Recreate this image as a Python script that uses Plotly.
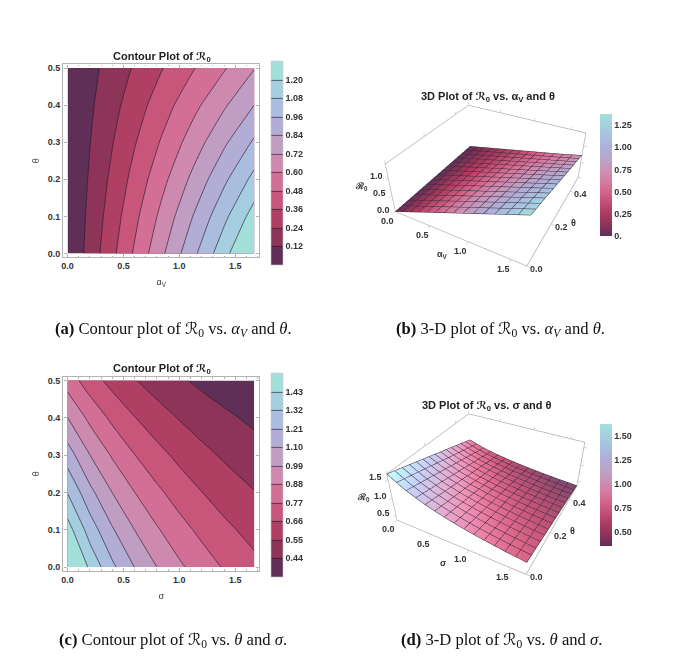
import plotly.graph_objects as go

W, H = 678, 660

# ---- data ----
alpha_v = [0, 0.28, 0.56, 0.84, 1.12, 1.4, 1.67]
theta = [0, 0.1, 0.2, 0.3, 0.4, 0.5]
r0_alpha = [
    [0, 0.232, 0.464, 0.696, 0.927, 1.159, 1.383],
    [0, 0.210, 0.420, 0.630, 0.840, 1.050, 1.253],
    [0, 0.187, 0.374, 0.561, 0.748, 0.935, 1.116],
    [0, 0.164, 0.328, 0.491, 0.655, 0.819, 0.977],
    [0, 0.141, 0.282, 0.423, 0.563, 0.704, 0.840],
    [0, 0.118, 0.235, 0.353, 0.470, 0.588, 0.715],
]
sigma = [0, 0.2, 0.4, 0.6, 0.8, 1.0, 1.2, 1.4, 1.67]
r0_sigma = [
    [1.640, 1.408, 1.233, 1.098, 0.989, 0.899, 0.825, 0.761, 0.690],
    [1.478, 1.269, 1.111, 0.989, 0.891, 0.810, 0.743, 0.686, 0.622],
    [1.316, 1.130, 0.989, 0.881, 0.793, 0.721, 0.662, 0.611, 0.554],
    [1.154, 0.991, 0.868, 0.772, 0.696, 0.633, 0.580, 0.536, 0.486],
    [0.992, 0.852, 0.746, 0.664, 0.598, 0.544, 0.499, 0.461, 0.418],
    [0.830, 0.712, 0.624, 0.556, 0.500, 0.455, 0.417, 0.385, 0.349],
]
ticks_2d = [0, 0.5, 1.0, 1.5]
ticks_theta = [0, 0.1, 0.2, 0.3, 0.4, 0.5]
ticks_theta_3d = [0, 0.2, 0.4]
cbar_a_ticks = [0.12, 0.24, 0.36, 0.48, 0.60, 0.72, 0.84, 0.96, 1.08, 1.20]
cbar_c_ticks = [0.44, 0.55, 0.66, 0.77, 0.88, 0.99, 1.10, 1.21, 1.32, 1.43]

# ---- styling ----
berry = [
    [0.00, "#5f2f57"], [0.09, "#8c3358"], [0.18, "#aa3b60"], [0.27, "#c34e72"],
    [0.36, "#d3648a"], [0.45, "#d47da3"], [0.54, "#ca92b7"], [0.63, "#bba4c9"],
    [0.72, "#aeafd8"], [0.81, "#a8bfe0"], [0.90, "#a5cfe0"], [1.00, "#a3e0dc"],
]
FONT = "Liberation Sans"
SERIF = "Liberation Serif"
TICKC = "#333333"
FRAME = "#b4b4b4"
BOLD = dict(family=FONT, size=9, color=TICKC, weight="bold")


def px(x):
    return x / W


def py(y):
    return 1 - y / H


fig = go.Figure()


def contour_panel(key, x, z, start, size, nlev, y_top, y_bot, cb_top, cb_bot, cb_ticks, xname):
    fig.add_trace(go.Contour(
        x=x, y=theta, z=z, xaxis=f"x{key}", yaxis=f"y{key}",
        colorscale=berry, zmin=start - size, zmax=start + size * nlev,
        contours=dict(start=start, end=start + size * (nlev - 1), size=size, coloring="fill"),
        line=dict(color="rgba(40,25,45,0.8)", width=0.8, smoothing=0.4),
        colorbar=dict(
            x=px(270), xanchor="left", xpad=0, y=py(cb_top), yanchor="top", ypad=0,
            len=cb_bot - cb_top, lenmode="pixels", thickness=12, thicknessmode="pixels",
            tickvals=cb_ticks, tickformat=".2f", ticks="", outlinecolor="#c8c8c8", outlinewidth=0.6,
            tickfont=BOLD,
        ),
    ))
    common = dict(showline=True, mirror="allticks", linecolor=FRAME, linewidth=1.4, ticks="inside",
                  ticklen=3, tickcolor=FRAME, showgrid=False, zeroline=False,
                  tickfont=BOLD, tickformat=".1f",
                  minor=dict(ticks="inside", ticklen=1.5, tickcolor=FRAME, dtick=0.1, showgrid=False))
    fig.update_layout({
        f"xaxis{key}": dict(common, domain=[px(61.5), px(258)], range=[-0.038, 1.715], tickvals=ticks_2d,
                            anchor=f"y{key}", title=dict(text=xname, standoff=8, font=dict(family=FONT, size=9, color=TICKC))),
        f"yaxis{key}": dict(common, domain=[py(y_bot), py(y_top)], range=[-0.01, 0.51], tickvals=ticks_theta,
                            anchor=f"x{key}", title=dict(text="θ", standoff=6, font=dict(family=FONT, size=9, color=TICKC))),
    })


contour_panel("", alpha_v, r0_alpha, 0.12, 0.12, 10, 63.5, 257, 60, 264, cbar_a_ticks, "α<sub>V</sub>")
contour_panel("2", sigma, r0_sigma, 0.44, 0.11, 10, 377, 571.5, 373, 577, cbar_c_ticks, "σ")


def label3d(x, y, z, text, dx, dy):
    return dict(x=x, y=y, z=z, text=text, showarrow=False, xanchor="center", yanchor="middle",
                xshift=dx, yshift=-dy, font=BOLD)


def surface_panel(name, x, z, zrange, zticks, z_title, cb_top, cb_bot, cb_ticks, cb_text, xname, y_dom, eye_z, lighting, cmin, cmax):
    fig.add_trace(go.Surface(
        x=x, y=theta, z=z, scene=name, colorscale=berry, cmin=cmin, cmax=cmax,
        lighting=lighting,
        contours=dict(
            x=dict(show=True, start=0, end=1.67, size=0.119, color="#3a2a38", width=1),
            y=dict(show=True, start=0, end=0.5, size=0.0357, color="#3a2a38", width=1),
        ),
        colorbar=dict(
            x=px(600), xanchor="left", xpad=0, y=py(cb_top), yanchor="top", ypad=0,
            len=cb_bot - cb_top, lenmode="pixels", thickness=12, thicknessmode="pixels",
            tickvals=cb_ticks, ticktext=cb_text, ticks="", outlinewidth=0,
            tickfont=BOLD,
        ),
    ))
    ax = dict(showbackground=False, showgrid=False, zeroline=False, showspikes=False, title=dict(text=""),
              showline=True, mirror="all", linecolor="#b0b0b0", linewidth=1.5, ticks="outside",
              ticklen=3, tickcolor="#b0b0b0", showticklabels=False)
    labels = []
    for v in ticks_2d:
        labels.append(label3d(v, 0, zrange[0], f"{v:.1f}", -8, 9))
    for v in ticks_theta_3d:
        labels.append(label3d(1.67, v, zrange[0], f"{v:.1f}", 10, 3))
    for v in zticks:
        labels.append(label3d(0, 0, v, f"{v:.1f}", -12, -2))
    labels.append(label3d(0.8, 0, zrange[0], xname, -10, 19))
    labels.append(label3d(1.67, 0.3, zrange[0], "θ", 12, 16))
    labels.append(label3d(0, 0, z_title, "ℛ<sub>0</sub>", -28, 3))
    fig.update_layout({name: dict(
        domain=dict(x=[px(357), px(627)], y=[py(y_dom[1]), py(y_dom[0])]),
        xaxis=dict(ax, range=[0, 1.67], tickvals=ticks_2d),
        yaxis=dict(ax, range=[0, 0.5], tickvals=ticks_theta_3d),
        zaxis=dict(ax, range=zrange, tickvals=zticks),
        aspectmode="manual", aspectratio=dict(x=1.2, y=1.2, z=0.48),
        camera=dict(eye=dict(x=1.16, y=-2.14, z=eye_z), projection=dict(type="perspective")),
        annotations=labels,
    )})


flat = dict(ambient=1.0, diffuse=0.0, specular=0.0, roughness=1.0, fresnel=0.0)
bright = dict(ambient=1.0, diffuse=0.7, specular=0.3, roughness=1.0, fresnel=0.0)
surface_panel("scene", alpha_v, r0_alpha, [0, 1.38], [0, 0.5, 1.0], 0.85, 113, 235, [0, 0.25, 0.5, 0.75, 1.0, 1.25],
              ["0.", "0.25", "0.50", "0.75", "1.00", "1.25"], "α<sub>V</sub>", (26, 316), 1.72, flat, 0, 1.38)
surface_panel("scene2", sigma, r0_sigma, [0.349, 1.64], [0.5, 1.0, 1.5], 1.1, 424, 546, [0.5, 0.75, 1.0, 1.25, 1.5],
              ["0.50", "0.75", "1.00", "1.25", "1.50"], "σ", (336, 626), 1.79, bright, 0.35, 1.63)

anns = []


def text(x, y, s, font, size, color="#111111"):
    anns.append(dict(x=px(x), y=py(y), xref="paper", yref="paper", text=s, showarrow=False,
                     xanchor="center", yanchor="middle", font=dict(family=font, size=size, color=color)))


R0 = "<span style='font-family:DejaVu Sans'>ℛ</span><sub>0</sub>"
text(160, 56, f"<b>Contour Plot of {R0}</b>", FONT, 11, "#222222")
text(160, 369, f"<b>Contour Plot of {R0}</b>", FONT, 11, "#222222")
text(487, 96, f"<b>3D Plot of {R0} vs. α<sub>V</sub> and θ</b>", FONT, 11, "#222222")
text(486, 406, f"<b>3D Plot of {R0} vs. σ and θ</b>", FONT, 11, "#222222")
text(172, 329, f"<b>(a)</b> Contour plot of {R0} vs. <i>α<sub>V</sub></i> and <i>θ</i>.", SERIF, 16.6)
text(500, 329, f"<b>(b)</b> 3-D plot of {R0} vs. <i>α<sub>V</sub></i> and <i>θ</i>.", SERIF, 16.6)
text(172, 641, f"<b>(c)</b> Contour plot of {R0} vs. <i>θ</i> and <i>σ</i>.", SERIF, 16.6)
text(501, 641, f"<b>(d)</b> 3-D plot of {R0} vs. <i>θ</i> and <i>σ</i>.", SERIF, 16.6)

fig.update_layout(width=W, height=H, margin=dict(l=0, r=0, t=0, b=0), paper_bgcolor="white",
                  plot_bgcolor="white", showlegend=False, annotations=anns)
fig.write_html("out.html", post_script="document.body.style.margin='0';",
               config=dict(displayModeBar=False))
